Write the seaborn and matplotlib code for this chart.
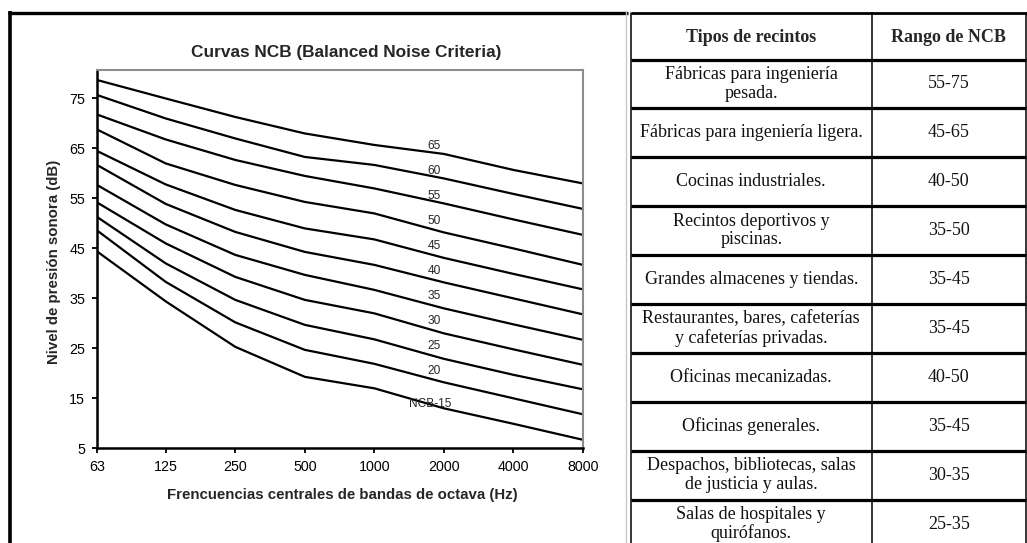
import pandas as pd
import matplotlib
matplotlib.use('Agg')
import matplotlib.pyplot as plt
import seaborn as sns
from matplotlib.ticker import NullLocator

# Octave band centre frequencies (Hz)
frecuencias = [63, 125, 250, 500, 1000, 2000, 4000, 8000]

# NCB curves, levels (dB)
ncb_65 = [78.7, 75.0, 71.3, 68.0, 65.7, 63.9, 60.7, 58.0]
ncb_60 = [75.7, 71.0, 67.0, 63.3, 61.7, 59.0, 55.9, 52.9]
ncb_55 = [71.8, 66.8, 62.7, 59.5, 57.0, 54.0, 50.8, 47.7]
ncb_50 = [68.8, 62.0, 57.7, 54.3, 52.0, 48.2, 45.0, 41.7]
ncb_45 = [64.5, 57.8, 52.7, 49.0, 46.8, 43.1, 39.9, 36.8]
ncb_40 = [61.7, 53.9, 48.3, 44.3, 41.7, 38.2, 35.0, 31.8]
ncb_35 = [57.7, 49.8, 43.7, 39.7, 36.7, 33.0, 29.8, 26.7]
ncb_30 = [54.2, 46.0, 39.3, 34.7, 32.0, 28.0, 24.8, 21.7]
ncb_25 = [51.3, 42.0, 34.7, 29.7, 26.8, 22.9, 19.7, 16.8]
ncb_20 = [48.6, 38.3, 30.2, 24.7, 21.9, 18.2, 15.0, 11.8]
ncb_15 = [44.4, 34.4, 25.3, 19.3, 17.0, 13.0, 9.9, 6.7]

niveles_ncb = [65, 60, 55, 50, 45, 40, 35, 30, 25, 20, 15]
curvas = [ncb_65, ncb_60, ncb_55, ncb_50, ncb_45, ncb_40,
          ncb_35, ncb_30, ncb_25, ncb_20, ncb_15]

y_ticks = [5, 15, 25, 35, 45, 55, 65, 75]

# Table contents
recintos = [
    'Fábricas para ingeniería\npesada.',
    'Fábricas para ingeniería ligera.',
    'Cocinas industriales.',
    'Recintos deportivos y\npiscinas.',
    'Grandes almacenes y tiendas.',
    'Restaurantes, bares, cafeterías\ny cafeterías privadas.',
    'Oficinas mecanizadas.',
    'Oficinas generales.',
    'Despachos, bibliotecas, salas\nde justicia y aulas.',
    'Salas de hospitales y\nquirófanos.',
]
rangos = ['55-75', '45-65', '40-50', '35-50', '35-45',
          '35-45', '40-50', '35-45', '30-35', '25-35']

# long format for seaborn
rows = []
for nivel, curva in zip(niveles_ncb, curvas):
    for f, v in zip(frecuencias, curva):
        rows.append({'freq': f, 'nivel': v, 'curva': f'NCB-{nivel}'})
df = pd.DataFrame(rows)

sns.set_style('white')
plt.rcParams['font.family'] = ['Liberation Sans', 'DejaVu Sans']

W, H = 1027, 543
fig = plt.figure(figsize=(W / 100, H / 100), dpi=100)
fig.patch.set_facecolor('white')

# background axes in pixel coordinates for frame + table
bg = fig.add_axes([0, 0, 1, 1], zorder=-1)
bg.set_xlim(0, W)
bg.set_ylim(H, 0)
bg.axis('off')

# left panel frame
bg.plot([9.5, 9.5], [11, H], color='black', lw=2.6, solid_capstyle='butt')
bg.plot([8, 628], [12.5, 12.5], color='black', lw=2.4, solid_capstyle='butt')
bg.plot([626, 626], [12, H], color='#c8c8c8', lw=1.0)

# table grid
x_left, x_mid, x_right = 630.5, 872, 1025.5
y_top, y_head = 12.5, 59.5
row_h = 48.9
bg.plot([x_left, W], [y_top, y_top], color='black', lw=2.0, solid_capstyle='butt')
for x in (x_left, x_mid, x_right):
    bg.plot([x, x], [y_top, H], color='black', lw=1.1)
for k in range(len(recintos)):
    y = y_head + row_h * k
    bg.plot([x_left, x_right], [y, y], color='black', lw=2.3, solid_capstyle='butt')

serif = ['Liberation Serif', 'DejaVu Serif']
fs_tab = 13
cx_left, cx_right = (x_left + x_mid) / 2, (x_mid + x_right) / 2
bg.text(cx_left, (y_top + y_head) / 2 + 1, 'Tipos de recintos', family=serif,
        fontsize=fs_tab, fontweight='bold', ha='center', va='center')
bg.text(cx_right, (y_top + y_head) / 2 + 1, 'Rango de NCB', family=serif,
        fontsize=fs_tab, fontweight='bold', ha='center', va='center')
for k, (rec, rg) in enumerate(zip(recintos, rangos)):
    cy = y_head + row_h * (k + 0.5)
    bg.text(cx_left, cy, rec, family=serif, fontsize=fs_tab, ha='center',
            va='center', linespacing=1.1, color='#111111')
    bg.text(cx_right, cy, rg, family=serif, fontsize=fs_tab, ha='center',
            va='center', color='#111111')

# chart axes
ax = fig.add_axes([97 / W, 1 - 448.3 / H, (583 - 97) / W, (448.3 - 70) / H])
sns.lineplot(data=df, x='freq', y='nivel', hue='curva',
             palette=['black'] * len(niveles_ncb), legend=False,
             lw=1.6, ax=ax)
ax.set_xscale('log', base=2)
ax.set_xlim(63, 8000)
ax.set_ylim(5, 80.7)
ax.set_xticks(frecuencias)
ax.set_xticklabels([str(f) for f in frecuencias])
ax.xaxis.set_minor_locator(NullLocator())
ax.set_yticks(y_ticks)
ax.tick_params(axis='both', which='major', direction='out', length=3.5,
               width=1.3, pad=5, labelsize=10.3, colors='black',
               bottom=True, left=True)
ax.set_xlabel('')
ax.set_ylabel('')
for side in ('left', 'bottom'):
    ax.spines[side].set_color('black')
    ax.spines[side].set_linewidth(1.8)
for side in ('top', 'right'):
    ax.spines[side].set_color('#8c8c8c')
    ax.spines[side].set_linewidth(1.5)

# curve labels
for nivel in niveles_ncb:
    if nivel == 15:
        ax.text(1750, nivel - 1.1, f'NCB-{nivel}', fontsize=8.6, ha='center',
                va='center')
    else:
        ax.text(1820, nivel + 0.5, str(nivel), fontsize=8.6, ha='center',
                va='center')

fig.text(346 / W, 1 - 53 / H, 'Curvas NCB (Balanced Noise Criteria)',
         fontsize=12.4, fontweight='bold', ha='center', va='center')
fig.text(342 / W, 1 - 495 / H,
         'Frencuencias centrales de bandas de octava (Hz)',
         fontsize=10.8, fontweight='bold', ha='center', va='center')
fig.text(54 / W, 1 - 262 / H, 'Nivel de presión sonora (dB)',
         fontsize=10.8, fontweight='bold', ha='center', va='center',
         rotation=90)

fig.savefig('out.png', dpi=100)
plt.close(fig)
